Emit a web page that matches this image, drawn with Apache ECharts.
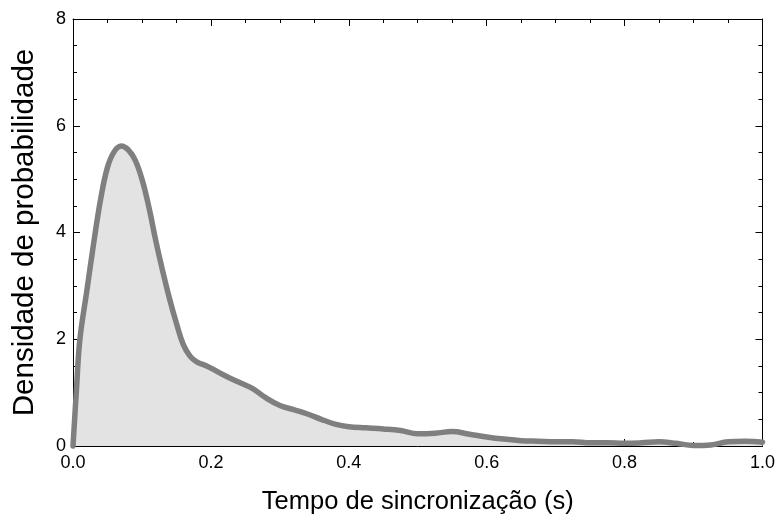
<!DOCTYPE html>
<html>
<head>
<meta charset="utf-8">
<script src="https://cdn.jsdelivr.net/npm/echarts@6/dist/echarts.min.js"></script>
<style>
  html, body { margin: 0; padding: 0; background: #fff; }
  #chart { width: 778px; height: 520px; }
</style>
</head>
<body>
<div id="chart"></div>
<script>
// Estimated density of synchronization time (s)
const tempo = [
  0.000, 0.005, 0.010, 0.020, 0.030, 0.040, 0.050, 0.060, 0.070, 0.080, 0.090,
  0.100, 0.110, 0.120, 0.130, 0.140, 0.150, 0.160, 0.170, 0.180, 0.190, 0.200,
  0.220, 0.240, 0.260, 0.280, 0.300, 0.320, 0.340, 0.360, 0.380, 0.400,
  0.425, 0.450, 0.475, 0.500, 0.525, 0.550, 0.575, 0.600, 0.625, 0.650, 0.675,
  0.700, 0.725, 0.750, 0.775, 0.800, 0.825, 0.850, 0.875, 0.900, 0.925, 0.950,
  0.975, 1.000
];
const densidade = [
  0.00, 1.05, 2.00, 2.90, 3.80, 4.62, 5.22, 5.52, 5.62, 5.55, 5.36,
  5.00, 4.48, 3.85, 3.28, 2.76, 2.30, 1.90, 1.68, 1.57, 1.52, 1.46,
  1.32, 1.20, 1.08, 0.90, 0.76, 0.68, 0.60, 0.50, 0.41, 0.36,
  0.34, 0.32, 0.29, 0.23, 0.24, 0.27, 0.22, 0.17, 0.13, 0.10, 0.09,
  0.08, 0.08, 0.06, 0.06, 0.05, 0.06, 0.08, 0.05, 0.01, 0.02, 0.08,
  0.09, 0.07
];

const xTicks = ['0.0', '0.2', '0.4', '0.6', '0.8', '1.0'];
const yTicks = ['0', '2', '4', '6', '8'];

const FONT = 'Liberation Sans, Arial, sans-serif';
const points = tempo.map((t, i) => [t, densidade[i]]);

const baseAxisLine = { show: true, onZero: false, lineStyle: { color: '#000', width: 1 } };
const tick = { show: true, inside: true, length: 7, lineStyle: { color: '#000' } };
const minor = { show: true, splitNumber: 4, length: 4, lineStyle: { color: '#000' } };

const chart = echarts.init(document.getElementById('chart'), null, { renderer: 'canvas' });
chart.setOption({
  backgroundColor: '#fff',
  animation: false,
  grid: { left: 73, right: 13.5, top: 19, bottom: 74, containLabel: false },
  xAxis: [
    {
      type: 'value', min: 0, max: 1, interval: 0.2, position: 'bottom',
      name: 'Tempo de sincronização (s)', nameLocation: 'middle', nameGap: 43,
      nameTextStyle: { fontFamily: FONT, fontSize: 25.5, color: '#000' },
      axisLine: baseAxisLine, axisTick: tick, minorTick: minor,
      axisLabel: {
        fontFamily: FONT, fontSize: 18, color: '#000', margin: 8,
        formatter: (v) => xTicks[Math.round(v / 0.2)]
      },
      splitLine: { show: false }
    },
    {
      type: 'value', min: 0, max: 1, interval: 0.2, position: 'top',
      axisLine: baseAxisLine, axisTick: tick, minorTick: minor,
      axisLabel: { show: false }, splitLine: { show: false }
    }
  ],
  yAxis: [
    {
      type: 'value', min: 0, max: 8, interval: 2, position: 'left',
      name: 'Densidade de probabilidade', nameLocation: 'middle', nameGap: 33,
      nameTextStyle: { fontFamily: FONT, fontSize: 29.5, color: '#000' },
      axisLine: baseAxisLine, axisTick: tick, minorTick: minor,
      axisLabel: {
        fontFamily: FONT, fontSize: 18, color: '#000', margin: 7,
        formatter: (v) => yTicks[Math.round(v / 2)]
      },
      splitLine: { show: false }
    },
    {
      type: 'value', min: 0, max: 8, interval: 2, position: 'right',
      axisLine: baseAxisLine, axisTick: tick, minorTick: minor,
      axisLabel: { show: false }, splitLine: { show: false }
    }
  ],
  series: [
    {
      type: 'line',
      xAxisIndex: 0, yAxisIndex: 0,
      data: points,
      smooth: 0.4,
      showSymbol: false,
      clip: false,
      lineStyle: { color: '#7f7f7f', width: 5.5, cap: 'round', join: 'round' },
      areaStyle: { color: '#e3e3e3', opacity: 1 },
      z: 1
    }
  ]
});
</script>
</body>
</html>
